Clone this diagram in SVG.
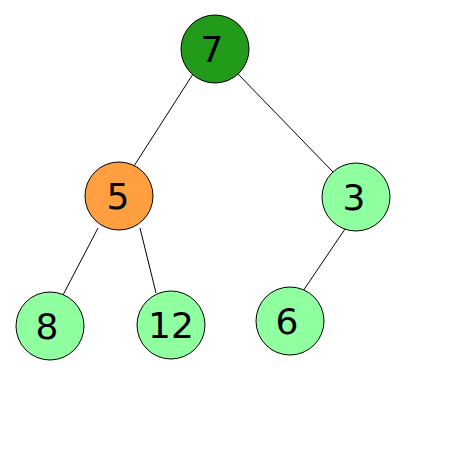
<svg xmlns="http://www.w3.org/2000/svg" width="450" height="450" viewBox="0 0 450 450">
<style>
.n{stroke:#000;stroke-width:1}
.t{font-family:"DejaVu Sans","Liberation Sans",sans-serif;font-size:36px;text-anchor:middle;fill:#000}
.e{stroke:#000;stroke-width:1;fill:none}
.lg{fill:#8fff9f}
</style>
<rect width="450" height="450" fill="#fff"/>
<g id="connectors">
<line class="e" x1="193" y1="74" x2="134" y2="166"/>
<line class="e" x1="238" y1="74" x2="333" y2="172"/>
<line class="e" x1="98" y1="228" x2="63" y2="295"/>
<line class="e" x1="140" y1="228" x2="156" y2="293"/>
<line class="e" x1="345" y1="229" x2="303" y2="291"/>
</g>
<g id="n7"><circle class="n" cx="215" cy="49" r="34" fill="#229a1a"/><text class="t" x="212" y="62">7</text></g>
<g id="n5"><circle class="n" cx="119" cy="196" r="34" fill="#ff9f40"/><text class="t" x="118" y="209">5</text></g>
<g id="n3"><circle class="n lg" cx="356" cy="197" r="34"/><text class="t" x="354" y="210">3</text></g>
<g id="n8"><circle class="n lg" cx="50" cy="326" r="34"/><text class="t" x="47" y="339">8</text></g>
<g id="n12"><circle class="n lg" cx="171" cy="325" r="34"/><text class="t" x="171" y="338">12</text></g>
<g id="n6"><circle class="n lg" cx="290" cy="321" r="34"/><text class="t" x="287" y="334">6</text></g>
</svg>
